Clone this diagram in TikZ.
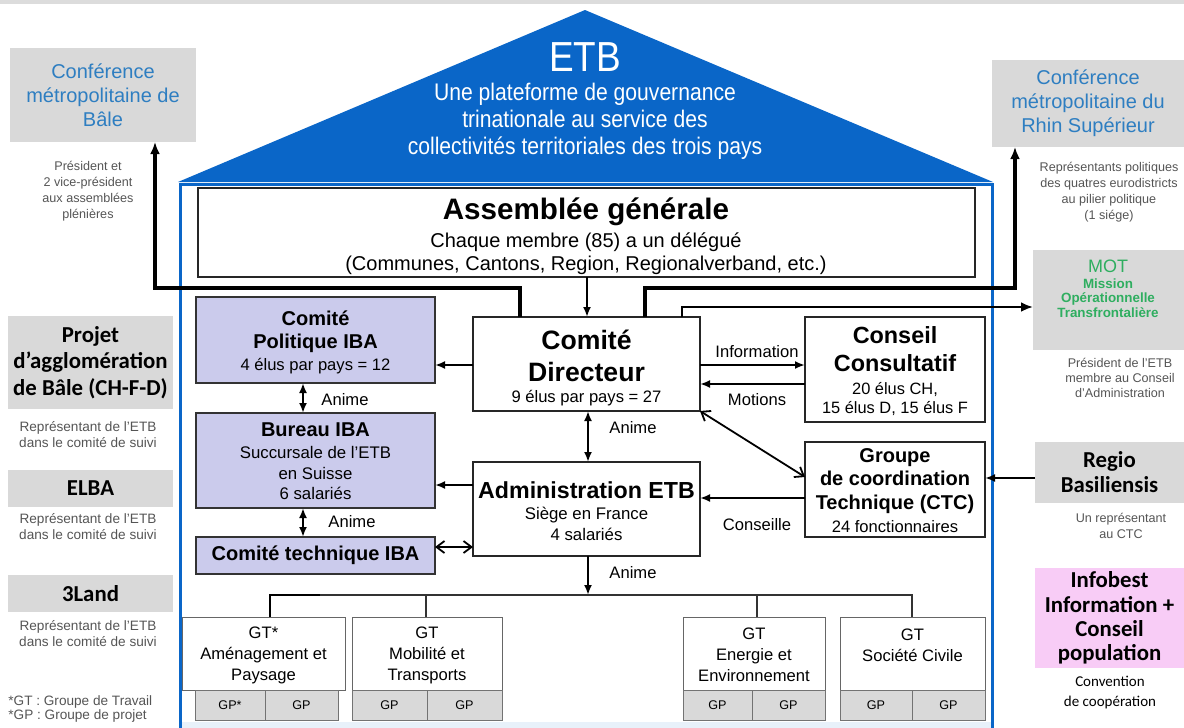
\documentclass[tikz,border=0pt]{standalone}
\usepackage{fontspec}
\setmainfont{Liberation Sans}
\newfontfamily\carl{Carlito}
\newfontfamily\narrowf[FakeStretch=0.88]{Liberation Sans}
\usetikzlibrary{fit,arrows.meta,calc}
\newcommand\fsz[2]{\fontsize{#1}{#2}\selectfont}
\definecolor{roofblue}{HTML}{0A66C8}
\definecolor{boxgray}{HTML}{D9D9D9}
\definecolor{lav}{HTML}{CBCBEC}
\definecolor{pinkbox}{HTML}{F8CCF6}
\definecolor{ctext}{HTML}{2E7EC1}
\definecolor{mgreen}{HTML}{2FAE60}
\definecolor{capgray}{HTML}{555555}
\definecolor{stripgray}{HTML}{DCDCDC}
\definecolor{floorblue}{HTML}{E8F1FA}
\begin{document}
\begin{tikzpicture}[x=0.5pt,y=-0.5pt,
  fitbox/.style={inner sep=0pt, outer sep=0pt},
  bbox/.style={fitbox, draw=black!85, line width=1pt, fill=white},
  lbox/.style={fitbox, draw=black!80, line width=0.8pt, fill=lav},
  gbox/.style={fitbox, fill=boxgray},
  gtbox/.style={fitbox, draw=black!60, line width=0.5pt, fill=white},
  gpbox/.style={fitbox, draw=black!55, line width=0.5pt, fill=boxgray},
  txt/.style={inner sep=0pt, align=center},
  captxt/.style={txt, text=capgray, font=\fsz{6.3}{8}},
  lbl/.style={txt, font=\fsz{8.3}{10}},
  arr/.style={line width=1pt, -{Latex[length=5pt,width=4pt]}},
  darr/.style={line width=1pt, {Latex[length=5pt,width=4pt]}-{Latex[length=5pt,width=4pt]}},
  oarr/.style={line width=0.9pt, {Straight Barb[length=4pt,width=6pt]}-{Straight Barb[length=4pt,width=6pt]}},
  bigconn/.style={line width=2pt, -{Latex[length=6pt,width=5pt]}},
  midconn/.style={line width=1.4pt, -{Latex[length=6pt,width=5pt]}},
  bus/.style={line width=0.6pt, draw=black!80}]
\useasboundingbox (0,0) rectangle (1184,728);
\fill[stripgray] (0,0) rectangle (1184,4);
% house
\fill[floorblue] (181,722) rectangle (992,728);
\fill[roofblue] (178,182) -- (585,10) -- (993,182) -- cycle;
\draw[roofblue, line width=1.5pt] (180,728) -- (180,184) -- (992,184) -- (992,728);
\node[txt, text=white, font=\narrowf\fsz{21}{24}] (t-etb) at (585,57) {ETB};
\node[txt, text=white, font=\narrowf\fsz{12}{13.5}] (t-roof) at (585,121) {Une plateforme de gouvernance\\trinationale au service des\\collectivités territoriales des trois pays};
% external boxes left
\node[gbox, fit={(10,48) (196,142)}] (confbale) {};
\node[txt, text=ctext, font=\fsz{10}{12}] (t-confbale) at (confbale.center) {Conférence\\métropolitaine de\\Bâle};
\node[captxt] (c-confbale) at (88,191) {Président et\\2 vice-président\\aux assemblées\\plénières};
\node[gbox, fit={(8,316) (173,409)}] (projet) {};
\node[txt, font=\carl\bfseries\fsz{11.4}{13.2}] (t-projet) at (projet.center) {Projet\\d’agglomération\\de Bâle (CH-F-D)};
\node[captxt, font=\fsz{6.8}{8}] (c-projet) at (88,435) {Représentant de l'ETB\\dans le comité de suivi};
\node[gbox, fit={(8,470) (173,507)}] (elba) {};
\node[txt, font=\carl\bfseries\fsz{11.4}{13.2}] (t-elba) at (elba.center) {ELBA};
\node[captxt, font=\fsz{6.8}{8}] (c-elba) at (88,527) {Représentant de l'ETB\\dans le comité de suivi};
\node[gbox, fit={(8,575) (173,612)}] (land) {};
\node[txt, font=\carl\bfseries\fsz{11.4}{13.2}] (t-land) at (land.center) {3Land};
\node[captxt, font=\fsz{6.8}{8}] (c-land) at (88,634) {Représentant de l'ETB\\dans le comité de suivi};
\node[captxt, font=\fsz{6.8}{7}, align=left, anchor=west] (c-foot) at (8,709) {*GT : Groupe de Travail\\*GP : Groupe de projet};
% external boxes right
\node[gbox, fit={(992,60) (1184,147)}] (confrhin) {};
\node[txt, text=ctext, font=\fsz{10}{12}] (t-confrhin) at (confrhin.center) {Conférence\\métropolitaine du\\Rhin Supérieur};
\node[captxt] (c-confrhin) at (1109,192) {Représentants politiques\\des quatres eurodistricts\\au pilier politique\\(1 siége)};
\node[gbox, fit={(1033,250) (1184,350)}] (mot) {};
\node[txt, text=mgreen, font=\fsz{9}{10}] (t-mot) at (1108,266) {MOT};
\node[txt, text=mgreen, font=\bfseries\fsz{6.7}{7.3}] (t-mot2) at (1108,298) {Mission\\Opérationnelle\\Transfrontalière};
\node[captxt, font=\fsz{6.3}{7.5}] (c-mot) at (1120,378) {Président de l'ETB\\membre au Conseil\\d'Administration};
\node[gbox, fit={(1035,442) (1184,503)}] (regio) {};
\node[txt, font=\carl\bfseries\fsz{11.4}{12.5}] (t-regio) at (regio.center) {Regio\\Basiliensis};
\node[captxt] (c-regio) at (1121,526) {Un représentant\\au CTC};
\node[fitbox, fill=pinkbox, fit={(1035,568) (1184,668)}] (info) {};
\node[txt, font=\carl\bfseries\fsz{11.4}{12.2}] (t-info) at (info.center) {Infobest\\Information +\\Conseil\\population};
\node[txt, font=\carl\fsz{7.5}{10}] (c-info) at (1110,693) {Convention\\de coopération};
% main boxes
\node[bbox, fit={(198,188) (975,277)}] (ag) {};
\node[txt, font=\bfseries\fsz{14.8}{16}] (t-ag) at (586,212) {Assemblée générale};
\node[txt, font=\fsz{10}{11.5}] (t-ag2) at (586,253.5) {Chaque membre (85) a un délégué\\(Communes, Cantons, Region, Regionalverband, etc.)};
\node[lbox, fit={(196,297) (435,383)}] (cp) {};
\node[txt, font=\bfseries\fsz{10}{11.5}] (t-cp) at (315.5,331.5) {Comité\\Politique IBA};
\node[txt, font=\fsz{8.3}{10}] (t-cp2) at (315.5,366) {4 élus par pays = 12};
\node[lbox, fit={(196,413) (435,508)}] (bu) {};
\node[txt, font=\bfseries\fsz{10}{11.5}] (t-bu) at (315.5,430) {Bureau IBA};
\node[txt, font=\fsz{8.4}{10.25}] (t-bu2) at (315.5,473) {Succursale de l'ETB\\en Suisse\\6 salariés};
\node[lbox, fit={(196,537) (435,574)}] (ct) {};
\node[txt, font=\bfseries\fsz{10}{11.5}] (t-ct) at (ct.center) {Comité technique IBA};
\node[bbox, fit={(473,317) (700,411)}] (cd) {};
\node[txt, font=\bfseries\fsz{13.3}{16}] (t-cd) at (586.5,356) {Comité\\Directeur};
\node[txt, font=\fsz{8.3}{10}] (t-cd2) at (586.5,398) {9 élus par pays = 27};
\node[bbox, fit={(473,462) (700,556)}] (adm) {};
\node[txt, font=\bfseries\fsz{11.6}{13}] (t-adm) at (586.5,490) {Administration ETB};
\node[txt, font=\fsz{8.4}{10.5}] (t-adm2) at (586.5,523.5) {Siège en France\\4 salariés};
\node[bbox, fit={(805,317) (985,422)}] (cc) {};
\node[txt, font=\bfseries\fsz{11.7}{14}] (t-cc) at (895,349) {Conseil\\Consultatif};
\node[txt, font=\fsz{8.2}{9.2}] (t-cc2) at (895,399) {20 élus CH,\\15 élus D, 15 élus F};
\node[bbox, fit={(805,442) (985,537)}] (ctc) {};
\node[txt, font=\bfseries\fsz{10}{11.8}] (t-ctc) at (895,481) {Groupe\\de coordination\\Technique (CTC)};
\node[txt, font=\fsz{8.3}{10}] (t-ctc2) at (895,527) {24 fonctionnaires};
% GT boxes
\node[gtbox, fit={(182,617) (345,690)}] (gt1) {};
\node[gpbox, fit={(195,690) (265,720)}] (gp1a) {};
\node[gpbox, fit={(265,690) (338,720)}] (gp1b) {};
\node[gtbox, fit={(352,617) (502,690)}] (gt2) {};
\node[gpbox, fit={(352,690) (427,720)}] (gp2a) {};
\node[gpbox, fit={(427,690) (502,720)}] (gp2b) {};
\node[gtbox, fit={(683,617) (825,690)}] (gt3) {};
\node[gpbox, fit={(683,690) (752,720)}] (gp3a) {};
\node[gpbox, fit={(752,690) (825,720)}] (gp3b) {};
\node[gtbox, fit={(840,617) (985,690)}] (gt4) {};
\node[gpbox, fit={(840,690) (912,720)}] (gp4a) {};
\node[gpbox, fit={(912,690) (985,720)}] (gp4b) {};
\node[txt, font=\fsz{8.3}{10.5}] (t-gt1) at (263.5,655) {GT*\\Aménagement et\\Paysage};
\node[txt, font=\fsz{8.3}{10.5}] (t-gt2) at (427,655) {GT\\Mobilité et\\Transports};
\node[txt, font=\fsz{8.3}{10.5}] (t-gt3) at (754,655) {GT\\Energie et\\Environnement};
\node[txt, font=\fsz{8.3}{10.5}] (t-gt4) at (912.5,645) {GT\\Société Civile};
\foreach \g/\t in {gp1a/GP*, gp1b/GP, gp2a/GP, gp2b/GP, gp3a/GP, gp3b/GP, gp4a/GP, gp4b/GP}
  \node[txt, font=\fsz{6.3}{7}] (t-\g) at (\g.center) {\t};
% connectors to outside
\draw[bigconn] (cd.north -| 520,0) |- (155,288) -- (confbale.south -| 155,0);
\draw[bigconn] (cd.north -| 645,0) |- (1015,288) -- (confrhin.south -| 1015,0);
\draw[midconn] (cd.north -| 682,0) |- (mot.west |- 0,307);
\draw[arr] (regio.west |- 0,478) -- (ctc.east |- 0,478);
% internal connectors
\draw[arr] (ag.south -| 587,0) -- (cd.north -| 587,0);
\draw[arr] (cd.east |- 0,365) -- (cc.west |- 0,365);
\draw[arr] (cc.west |- 0,384) -- (cd.east |- 0,384);
\draw[oarr] (cd.south east) -- (ctc.west |- 0,477);
\draw[arr] (ctc.west |- 0,498) -- (adm.east |- 0,498);
\draw[darr] (cd.south -| 588,0) -- (adm.north -| 588,0);
\draw[arr] (cd.west |- 0,365) -- (cp.east |- 0,365);
\draw[arr] (adm.west |- 0,485) -- (bu.east |- 0,485);
\draw[oarr] (adm.west |- 0,547) -- (ct.east |- 0,547);
\draw[darr] (cp.south -| 303,0) -- (bu.north -| 303,0);
\draw[darr] (bu.south -| 303,0) -- (ct.north -| 303,0);
\coordinate (busL) at (270,595);
\coordinate (busR) at (912,595);
\coordinate (busM) at (588,595);
\draw[arr] (adm.south -| busM) -- (busM);
\draw[bus] (gt1.north -| busL) -- (busL) -- (busR) -- (gt4.north -| busR);
\draw[line width=1pt] (gt1.north -| busL) -- (busL) -- (320,595);
\draw[bus] (gt2.north -| 426,0) -- (busL -| 426,0);
\draw[bus] (gt3.north -| 757,0) -- (busL -| 757,0);
% labels
\node[lbl] (l-info) at (757,352) {Information};
\node[lbl] (l-mot) at (757,400) {Motions};
\node[lbl] (l-cons) at (757,525) {Conseille};
\node[lbl] (l-an1) at (633,428) {Anime};
\node[lbl] (l-an2) at (633,573) {Anime};
\node[lbl] (l-an3) at (345,400) {Anime};
\node[lbl] (l-an4) at (352,522) {Anime};
\end{tikzpicture}
\end{document}
